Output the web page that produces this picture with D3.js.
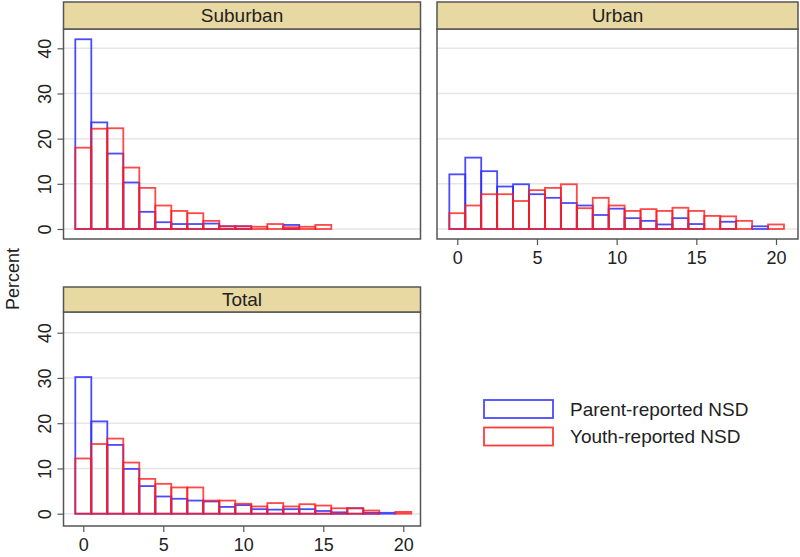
<!DOCTYPE html>
<html>
<head>
<meta charset="utf-8">
<script src="https://cdn.jsdelivr.net/npm/d3@7"></script>
<style>
  body { margin: 0; background: #fff; }
  text { font-family: "Liberation Sans", Arial, Helvetica, sans-serif; fill: #222; }
</style>
</head>
<body>
<div id="chart"><svg></svg></div>
<script>
// bins of the number of days (0..20), one bar per value
const bins = d3.range(0, 21);
const yTicks = [0, 10, 20, 30, 40];
const xTicks = [0, 5, 10, 15, 20];
const panelNames = ["Suburban", "Urban", "Total"];
const seriesNames = ["Parent-reported NSD", "Youth-reported NSD"];

// percent per bin
const suburbanParent = [42.0, 23.6, 16.7, 10.3, 3.8, 1.5, 1.1, 1.1, 1.2, 0.6, 0.6, 0, 0, 0.9, 0, 0, 0, 0, 0, 0, 0];
const suburbanYouth = [18.0, 22.2, 22.3, 13.6, 9.1, 5.2, 4.0, 3.5, 1.8, 0.6, 0.6, 0.5, 1.1, 0.4, 0.5, 0.9, 0, 0, 0, 0, 0];
const urbanParent = [12.1, 15.8, 12.8, 9.4, 9.9, 7.7, 6.9, 5.75, 5.2, 3.1, 4.5, 2.4, 1.8, 1.0, 2.4, 1.1, 0, 1.6, 0, 0.6, 0];
const urbanYouth = [3.5, 5.2, 7.7, 7.7, 6.2, 8.6, 9.1, 9.9, 4.6, 6.9, 5.2, 4.0, 4.4, 4.0, 4.7, 4.0, 2.9, 2.8, 1.8, 0, 1.0];
const totalParent = [30.2, 20.4, 15.2, 9.9, 6.1, 3.8, 3.3, 2.9, 2.7, 1.5, 1.9, 1.0, 0.9, 1.0, 1.0, 0.6, 0.3, 1.2, 0.2, 0.2, 0];
const totalYouth = [12.2, 15.4, 16.6, 11.3, 7.7, 6.6, 5.8, 5.8, 2.9, 2.9, 2.2, 1.6, 2.35, 1.6, 2.1, 1.8, 1.2, 1.2, 0.7, 0, 0.4];

const colors = ["#2b2bff", "#ff1a1a"];

const svg = d3.select("#chart > svg").attr("width", 800).attr("height", 557);

// frame boxes: left/right, header top, header bottom (= plot top), plot bottom
const panels = [
  { name: panelNames[0], data: [suburbanParent, suburbanYouth], x0: 63.5, x1: 420.5, hTop: 2, top: 29, bottom: 239,
    xr: [83.3, 403.3], yr: [229, 48.3], yAxis: true, xAxis: false },
  { name: panelNames[1], data: [urbanParent, urbanYouth], x0: 437, x1: 798, hTop: 2, top: 29, bottom: 239,
    xr: [457.3, 776], yr: [229, 48.3], yAxis: false, xAxis: true },
  { name: panelNames[2], data: [totalParent, totalYouth], x0: 63.5, x1: 420.5, hTop: 287, top: 312, bottom: 526,
    xr: [83.3, 403.3], yr: [513.7, 332.7], yAxis: true, xAxis: true }
];

panels.forEach(p => {
  const x = d3.scaleLinear().domain([0, 20]).range(p.xr);
  const y = d3.scaleLinear().domain([0, 40]).range(p.yr);
  const g = svg.append("g");

  // grid
  g.selectAll(".grid")
    .data(yTicks)
    .enter()
    .append("line")
    .attr("x1", p.x0)
    .attr("x2", p.x1)
    .attr("y1", d => y(d))
    .attr("y2", d => y(d))
    .attr("stroke", "#e6e6e6")
    .attr("stroke-width", 1.5);

  // bars, parent first then youth on top
  p.data.forEach((values, si) => {
    g.selectAll(".bar" + si)
      .data(bins.filter(b => values[b] > 0))
      .enter()
      .append("rect")
      .attr("x", b => x(b - 0.5))
      .attr("width", b => x(b + 0.5) - x(b - 0.5))
      .attr("y", b => y(values[b]))
      .attr("height", b => y(0) - y(values[b]))
      .attr("fill", "none")
      .attr("stroke", colors[si])
      .attr("stroke-opacity", si === 0 ? 0.85 : 0.8)
      .attr("stroke-width", 1.8);
  });

  // plot frame
  g.append("rect")
    .attr("x", p.x0)
    .attr("y", p.top)
    .attr("width", p.x1 - p.x0)
    .attr("height", p.bottom - p.top)
    .attr("fill", "none")
    .attr("stroke", "#555")
    .attr("stroke-width", 1.5);

  // header strip
  g.append("rect")
    .attr("x", p.x0)
    .attr("y", p.hTop)
    .attr("width", p.x1 - p.x0)
    .attr("height", p.top - p.hTop)
    .attr("fill", "#e8d9a2")
    .attr("stroke", "#555")
    .attr("stroke-width", 1.5);
  g.append("text")
    .attr("x", (p.x0 + p.x1) / 2)
    .attr("y", (p.hTop + p.top) / 2)
    .attr("dy", "0.36em")
    .attr("text-anchor", "middle")
    .style("font-size", "19px")
    .text(p.name);

  if (p.yAxis) {
    const ya = g.append("g")
      .attr("transform", `translate(${p.x0}, 0)`)
      .call(d3.axisLeft(y).tickValues(yTicks).tickSize(6));
    ya.select(".domain").remove();
    ya.selectAll(".tick line").attr("stroke", "#555").attr("stroke-width", 1.2);
    ya.selectAll(".tick text")
      .attr("transform", "rotate(-90)")
      .attr("x", 0)
      .attr("y", -13)
      .attr("dy", "0")
      .attr("text-anchor", "middle")
      .style("font-size", "18px")
      .style("font-family", "'Liberation Sans', Arial, sans-serif")
      .attr("fill", "#222");
  }

  if (p.xAxis) {
    const xa = g.append("g")
      .attr("transform", `translate(0, ${p.bottom})`)
      .call(d3.axisBottom(x).tickValues(xTicks).tickSize(6).tickPadding(6));
    xa.select(".domain").remove();
    xa.selectAll(".tick line").attr("stroke", "#555").attr("stroke-width", 1.2);
    xa.selectAll(".tick text")
      .style("font-size", "18px")
      .style("font-family", "'Liberation Sans', Arial, sans-serif")
      .attr("fill", "#222");
  }
});

// y title
svg.append("text")
  .attr("transform", "translate(13, 279) rotate(-90)")
  .attr("text-anchor", "middle")
  .attr("dy", "0.35em")
  .style("font-size", "18px")
  .text("Percent");

// legend
const legend = svg.append("g").attr("transform", "translate(484, 400)");
seriesNames.forEach((name, i) => {
  legend.append("rect")
    .attr("x", 0)
    .attr("y", i * 27.5)
    .attr("width", 69)
    .attr("height", 18)
    .attr("fill", "none")
    .attr("stroke", colors[i])
    .attr("stroke-opacity", 0.85)
    .attr("stroke-width", 1.8);
  legend.append("text")
    .attr("x", 86)
    .attr("y", i * 27.5 + 9)
    .attr("dy", "0.36em")
    .style("font-size", "19px")
    .text(name);
});
</script>
</body>
</html>
